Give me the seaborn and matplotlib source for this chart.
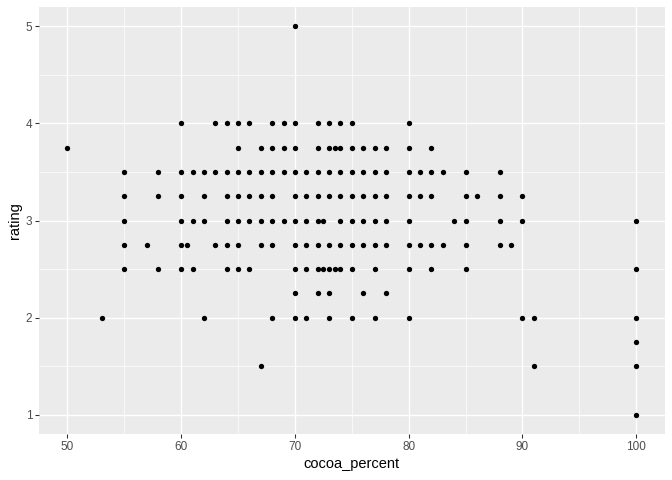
import pandas as pd
import matplotlib
matplotlib.use("Agg")
import matplotlib.pyplot as plt
import seaborn as sns

# cocoa_percent values found at each rating level
r_5_00 = [70]
r_4_00 = [60, 63, 64, 65, 66, 68, 69, 70, 72, 73, 74, 75, 80]
r_3_75 = [50, 65, 67, 68, 69, 70, 72, 73, 73.5, 74, 75, 76, 77, 78, 80, 82]
r_3_50 = [55, 58, 60, 61, 62, 63, 64, 65, 66, 67, 68, 69, 70, 71, 72, 73, 74,
          75, 76, 77, 78, 80, 81, 82, 83, 85, 88]
r_3_25 = [55, 58, 60, 62, 64, 65, 66, 67, 68, 70, 71, 72, 73, 74, 75, 76, 77,
          78, 80, 81, 82, 85, 86, 88, 90]
r_3_00 = [55, 60, 61, 62, 64, 65, 66, 67, 68, 69, 70, 71, 72, 72.5, 74, 75, 76,
          77, 78, 80, 84, 85, 88, 90, 100]
r_2_75 = [55, 57, 60, 60.5, 63, 64, 65, 67, 68, 70, 71, 72, 73, 74, 75, 76, 77,
          78, 80, 81, 82, 83, 85, 88, 89]
r_2_50 = [55, 58, 60, 61, 64, 65, 66, 70, 71, 72, 72.5, 73, 73.5, 74, 75, 77,
          80, 82, 85, 100]
r_2_25 = [70, 72, 73, 76, 78]
r_2_00 = [53, 62, 68, 70, 71, 73, 75, 77, 80, 90, 91, 100]
r_1_75 = [100]
r_1_50 = [67, 91, 100]
r_1_00 = [100]

levels = [5.0, 4.0, 3.75, 3.5, 3.25, 3.0, 2.75, 2.5, 2.25, 2.0, 1.75, 1.5, 1.0]
groups = [r_5_00, r_4_00, r_3_75, r_3_50, r_3_25, r_3_00, r_2_75, r_2_50,
          r_2_25, r_2_00, r_1_75, r_1_50, r_1_00]

rows = []
for lev, xs in zip(levels, groups):
    for x in xs:
        rows.append({"cocoa_percent": x, "rating": lev})
data = pd.DataFrame(rows)

sns.set_theme(style="darkgrid", rc={
    "axes.facecolor": "#EBEBEB",
    "grid.color": "white",
    "axes.edgecolor": "#EBEBEB",
    "xtick.bottom": True,
    "ytick.left": True,
})
plt.rcParams["font.family"] = ["Liberation Sans", "DejaVu Sans"]

fig = plt.figure(figsize=(7, 5), dpi=96)
ax = fig.add_axes([0.058, 0.095, 0.931, 0.891])

sns.scatterplot(x="cocoa_percent", y="rating", data=data, ax=ax,
                color="black", s=16, linewidth=0, zorder=3)

ax.set_xlim(47.5, 102.5)
ax.set_ylim(0.8, 5.2)
ax.set_xticks([50, 60, 70, 80, 90, 100])
ax.set_yticks([1, 2, 3, 4, 5])
ax.set_xticks([55, 65, 75, 85, 95], minor=True)
ax.set_yticks([1.5, 2.5, 3.5, 4.5], minor=True)
ax.grid(which="major", color="white", linewidth=1.0)
ax.grid(which="minor", color="white", linewidth=0.5)
ax.tick_params(which="major", length=3, width=0.8, color="#333333",
               labelsize=8.8, labelcolor="#4D4D4D", pad=2)
ax.tick_params(which="minor", length=0)
for sp in ax.spines.values():
    sp.set_visible(False)

ax.set_xlabel("cocoa_percent", fontsize=11, color="black", labelpad=3)
ax.set_ylabel("rating", fontsize=11, color="black", labelpad=3)

fig.savefig("out.png", dpi=96)
